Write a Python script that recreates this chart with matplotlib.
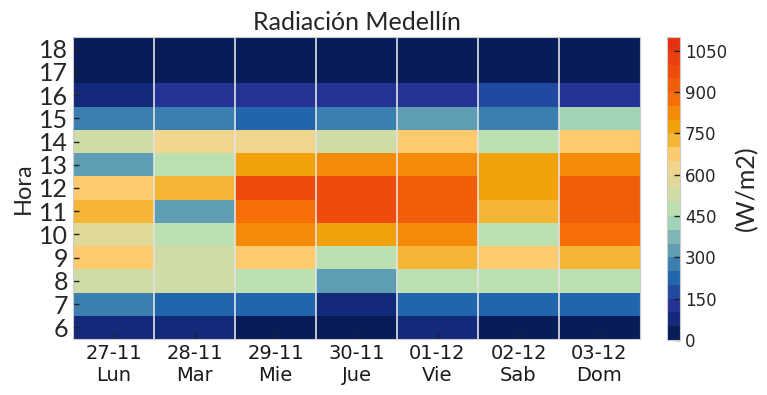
import numpy as np
import matplotlib
matplotlib.use('Agg')
import matplotlib.pyplot as plt
from matplotlib.colors import ListedColormap, BoundaryNorm

# datos: radiacion (W/m2) por hora y dia
horas = [6, 7, 8, 9, 10, 11, 12, 13, 14, 15, 16, 17, 18]
dias = ['27-11\nLun', '28-11\nMar', '29-11\nMie', '30-11\nJue',
        '01-12\nVie', '02-12\nSab', '03-12\nDom']

# filas = horas (6..18), columnas = dias
rad = np.array([
    [75, 75, 25, 25, 75, 25, 25],          # 6
    [275, 225, 225, 75, 225, 225, 225],    # 7
    [525, 525, 475, 325, 475, 475, 475],   # 8
    [675, 525, 675, 475, 725, 675, 725],   # 9
    [575, 475, 825, 775, 825, 475, 875],   # 10
    [725, 325, 875, 975, 925, 725, 925],   # 11
    [675, 725, 975, 975, 925, 775, 925],   # 12
    [325, 475, 775, 825, 825, 775, 825],   # 13
    [525, 625, 625, 525, 675, 475, 675],   # 14
    [275, 275, 225, 275, 325, 275, 425],   # 15
    [75, 125, 125, 125, 125, 175, 125],    # 16
    [25, 25, 25, 25, 25, 25, 25],          # 17
    [25, 25, 25, 25, 25, 25, 25],          # 18
])

niveles = np.arange(0, 1101, 50)
colores = ['#081d58', '#13297a', '#253494', '#2249a0', '#2166ac', '#3a7fb0',
           '#5e9db3', '#7fb6b4', '#a1d3b7', '#bde0b1', '#cfdca6', '#dfd99a',
           '#f0d58c', '#fdca6e', '#f5b535', '#f1a10a', '#f48a07', '#f76d06',
           '#f15e0a', '#ee4b0c', '#ea3f0f', '#e5310f']
cmap = ListedColormap(colores)
norm = BoundaryNorm(niveles, cmap.N)

fig = plt.figure(figsize=(7.67, 3.95), dpi=100)
ax = fig.add_axes([73/767, 1-339/395, (640-73)/767, (339-37)/395])
cax = fig.add_axes([667/767, 1-340/395, 13/767, (340-37)/395])

x = np.arange(len(dias) + 1) - 0.5
y = np.arange(len(horas) + 1) + horas[0] - 0.5
mesh = ax.pcolormesh(x, y, rad, cmap=cmap, norm=norm)

# lineas entre dias
for xb in x[1:-1]:
    ax.axvline(xb, color='#e3e3e3', lw=1.2)

ax.set_xticks(np.arange(len(dias)))
ax.set_xticklabels(dias, fontsize=14, family='DejaVu Sans', color='#1a1a1a')
ax.set_yticks(horas)
ax.set_yticklabels([str(h) for h in horas], fontsize=18, family='Lato', color='#262626')
ax.tick_params(direction='in', length=4, width=1, color='#222222')
ax.set_ylabel('Hora', fontsize=17, family='Lato', color='#262626', labelpad=4)
ax.set_title('Radiación Medellín', fontsize=18, family='Lato', color='#262626', pad=5)
for s in ax.spines.values():
    s.set_color('#cccccc')

cb = fig.colorbar(mesh, cax=cax, ticks=np.arange(0, 1051, 150))
cb.minorticks_off()
cb.outline.set_edgecolor('#cccccc')
cax.tick_params(direction='in', length=4, width=1, color='#222222', labelsize=12)
for t in cax.get_yticklabels():
    t.set_family('DejaVu Sans')
    t.set_color('#262626')
cb.set_label('(W/m2)', fontsize=18, family='Lato', color='#262626', labelpad=6)

fig.savefig('out.png', dpi=100)
